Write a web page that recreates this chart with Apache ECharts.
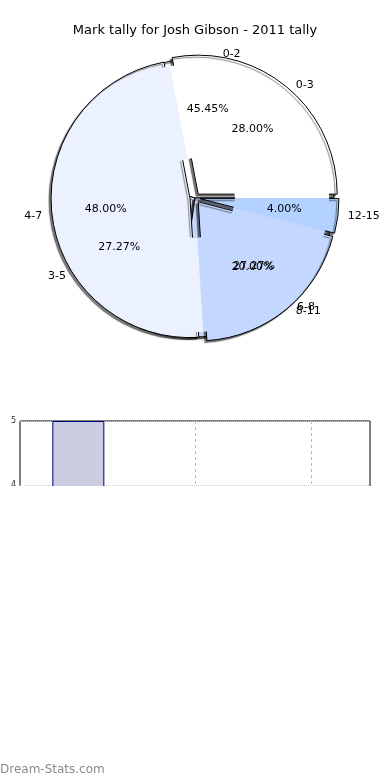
<!DOCTYPE html>
<html>
<head>
<meta charset="utf-8">
<script src="https://cdn.jsdelivr.net/npm/echarts@6/dist/echarts.min.js"></script>
<style>
html,body{margin:0;padding:0;background:#fff;}
#c{width:390px;height:780px;}
</style>
</head>
<body>
<div id="c"></div>
<script>
// Pie A (4-mark bands)
const namesA = ['0-3', '4-7', '8-11', '12-15'];
const valuesA = [7, 12, 5, 1];
const colorsA = ['#ffffff', '#ebf1ff', '#c4d8ff', '#b4d2ff'];
// Pie B (3-mark bands)
const namesB = ['0-2', '3-5', '6-8'];
const valuesB = [5, 3, 3];
const colorsB = ['#ffffff', '#ebf1ff', '#c4d8ff'];
// Bar chart (only the top band is visible)
const barCats = ['A', 'B', 'C'];
const barValues = [5, 0, 0];
const barTicks = [0, 1, 2, 3, 4, 5];

const FONT = 'DejaVu Sans';
const CX = 195, CY = 198, R = 139;

function sum(a){return a.reduce((s,v)=>s+v,0);}
function pctFmt(total){return p => (p.value/total*100).toFixed(2)+'%';}

function mkData(names, values, colors, selected){
  return names.map((n,i)=>({name:n, value:values[i], selected:selected, itemStyle:{color:colors[i]}}));
}
const noHide = {hideOverlap:false, moveOverlap:null};

const chart = echarts.init(document.getElementById('c'), null, {renderer:'canvas'});
chart.setOption({
  animation:false,
  backgroundColor:'#ffffff',
  title:{text:'Mark tally for Josh Gibson - 2011 tally', left:'center', top:19,
    textStyle:{fontFamily:FONT, fontSize:13, fontWeight:'normal', color:'#000'}},
  grid:{left:20, right:20, top:421, height:320, show:true, borderColor:'#000', borderWidth:1, backgroundColor:'#fff'},
  xAxis:{type:'category', data:barCats,
    axisLine:{show:false}, axisTick:{show:false}, axisLabel:{show:false},
    splitLine:{show:true, alignWithLabel:true, lineStyle:{color:'#bbb', type:[3,3], width:1}}},
  yAxis:{type:'value', min:0, max:5, interval:1,
    axisLine:{show:false}, axisTick:{show:false},
    axisLabel:{fontFamily:FONT, fontSize:8, color:'#333', margin:4},
    splitLine:{show:true, lineStyle:{color:'#ccc', type:'dotted', width:1}}},
  series:[
    {type:'bar', data:barValues, barWidth:52, z:2,
      itemStyle:{color:'#ccccE2', borderColor:'#000080', borderWidth:1}},
    // Pie B (underneath) with shadow
    {type:'pie', center:[CX,CY], radius:[0,R], startAngle:0, clockwise:false,
      avoidLabelOverlap:false, labelLayout:noHide, z:3, silent:true,
      data:mkData(namesB, valuesB, colorsB, false),
      itemStyle:{borderColor:'#000', borderWidth:1, shadowColor:'rgba(0,0,0,0.6)', shadowBlur:1, shadowOffsetX:-2, shadowOffsetY:2},
      label:{show:true, position:'outside', fontFamily:FONT, fontSize:11, color:'#000', formatter:'{b}'},
      labelLine:{show:false, length:6, length2:2}},
    // Pie A (on top), exploded
    {type:'pie', center:[CX,CY], radius:[0,R], startAngle:0, clockwise:false,
      selectedMode:'multiple', selectedOffset:5,
      avoidLabelOverlap:false, labelLayout:noHide, z:4, silent:true,
      data:mkData(namesA, valuesA, colorsA, true),
      itemStyle:{borderColor:'#000', borderWidth:1, shadowColor:'rgba(0,0,0,0.5)', shadowBlur:1, shadowOffsetX:-2, shadowOffsetY:2},
      label:{show:true, position:'outside', fontFamily:FONT, fontSize:11, color:'#000', formatter:'{b}'},
      labelLine:{show:false, length:3, length2:2}},
    // Percent labels B
    {type:'pie', center:[CX,CY], radius:[40,134], startAngle:0, clockwise:false,
      avoidLabelOverlap:false, labelLayout:noHide, z:5, silent:true,
      data:mkData(namesB, valuesB, colorsB, false),
      itemStyle:{color:'rgba(0,0,0,0)', borderWidth:0},
      label:{show:true, position:'inside', fontFamily:FONT, fontSize:11, color:'#000', formatter:pctFmt(sum(valuesB))},
      labelLine:{show:false}},
    // Percent labels A
    {type:'pie', center:[CX,CY], radius:[40,134], startAngle:0, clockwise:false,
      avoidLabelOverlap:false, labelLayout:noHide, z:5, silent:true,
      data:mkData(namesA, valuesA, colorsA, false),
      itemStyle:{color:'rgba(0,0,0,0)', borderWidth:0},
      label:{show:true, position:'inside', fontFamily:FONT, fontSize:11, color:'#000', formatter:pctFmt(sum(valuesA))},
      labelLine:{show:false}}
  ],
  graphic:[
    {type:'rect', left:0, top:486, shape:{width:390, height:270}, style:{fill:'#ffffff'}, z:100, silent:true},
    {type:'text', left:0, top:764, z:101, silent:true,
      style:{text:'Dream-Stats.com', fontFamily:FONT, fontSize:12, fill:'#8a8a8a'}}
  ]
});
</script>
</body>
</html>
